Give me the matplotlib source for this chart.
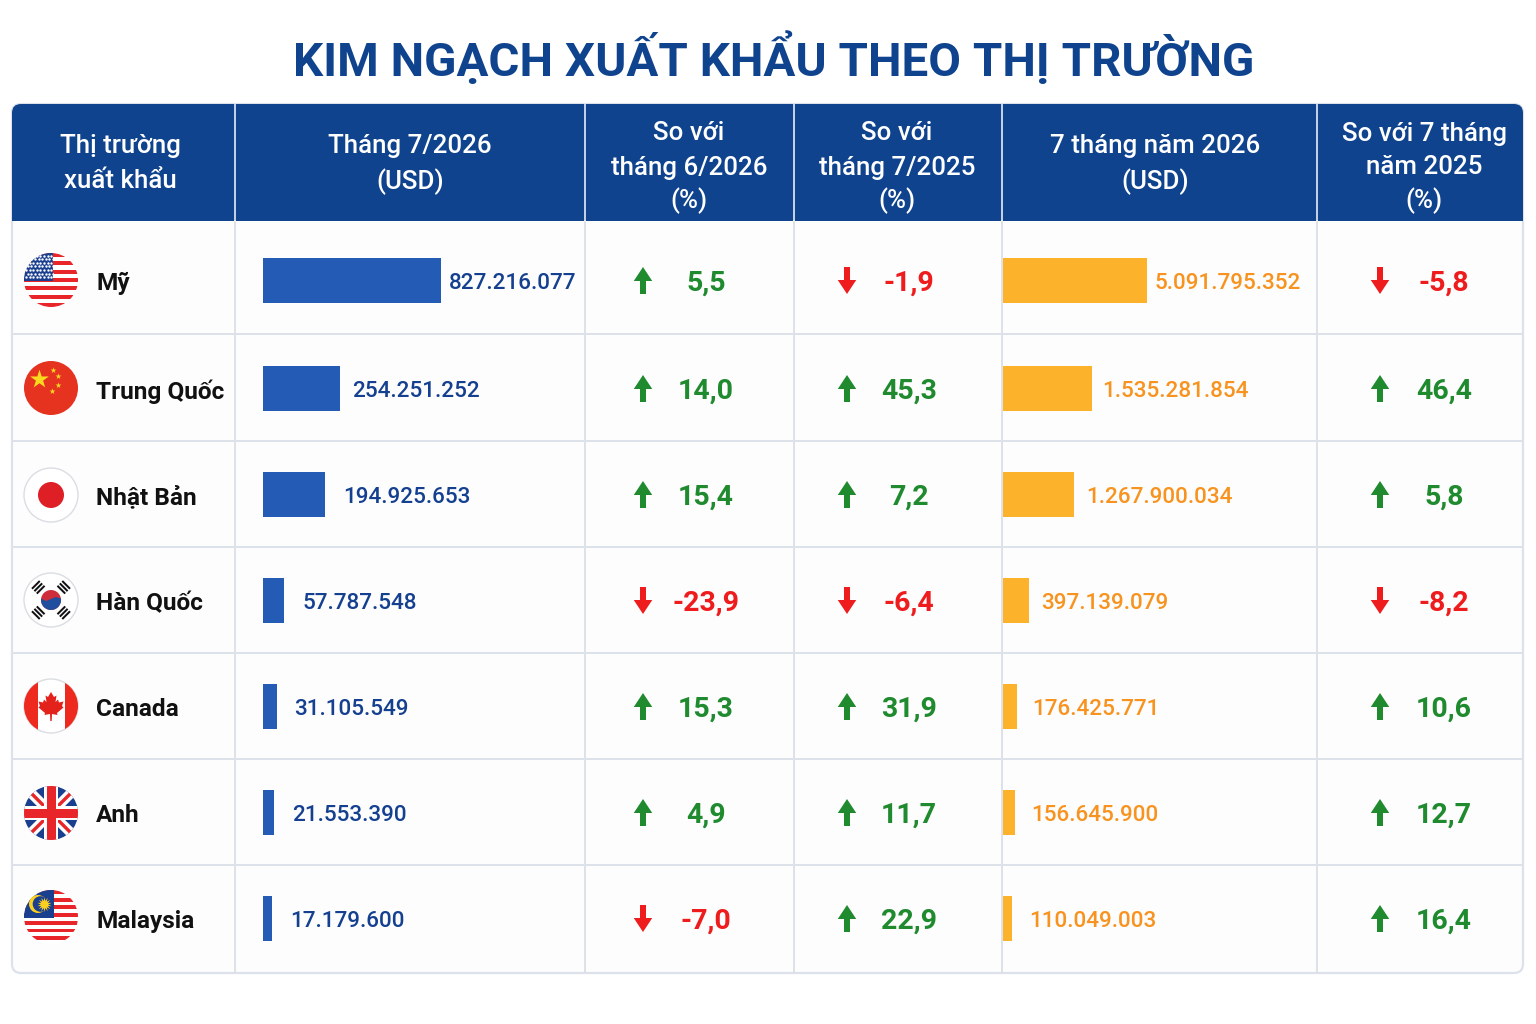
import numpy as np
import matplotlib
matplotlib.use("Agg")
import matplotlib.pyplot as plt
from matplotlib.patches import Circle, Rectangle, FancyBboxPatch, Polygon

plt.rcParams['font.family'] = ['Roboto', 'Noto Sans', 'DejaVu Sans']

TITLE = "KIM NGẠCH XUẤT KHẨU THEO THỊ TRƯỜNG"
headers = [
    ["Thị trường", "xuất khẩu"],
    ["Tháng 7/2026", "(USD)"],
    ["So với", "tháng 6/2026", "(%)"],
    ["So với", "tháng 7/2025", "(%)"],
    ["7 tháng năm 2026", "(USD)"],
    ["So với 7 tháng", "năm 2025", "(%)"],
]
markets = ["Mỹ", "Trung Quốc", "Nhật Bản", "Hàn Quốc", "Canada", "Anh", "Malaysia"]
month_usd = [827216077, 254251252, 194925653, 57787548, 31105549, 21553390, 17179600]
ytd_usd = [5091795352, 1535281854, 1267900034, 397139079, 176425771, 156645900, 110049003]
vs_prev_month = [5.5, 14.0, 15.4, -23.9, 15.3, 4.9, -7.0]
vs_prev_year = [-1.9, 45.3, 7.2, -6.4, 31.9, 11.7, 22.9]
ytd_vs_prev_year = [-5.8, 46.4, 5.8, -8.2, 10.6, 12.7, 16.4]

# layout, all in reference pixels
W, H = 1536, 1024
col_x = [12, 235, 585, 794, 1002, 1317, 1523]
head_x = [120, 410, 689, 897, 1155, 1424]
row_y = [221, 334, 441, 547, 653, 759, 865, 973]
text_y = [283.5, 391.5, 497.5, 603.5, 709.5, 815.5, 921.5]
arrow_y = [280.5, 388.5, 494.5, 600.5, 706.5, 812.5, 918.5]
bar_y = [280, 388.5, 494.5, 600.5, 706, 812, 918.5]
flag_y = [280, 388, 495, 600, 706, 813, 917]
month_label_x = [449, 352, 343, 303, 294, 292, 290]
ytd_label_x = [1154, 1102, 1086, 1041, 1032, 1031, 1029]

NAVY = "#0F438E"
GRID = "#DDE2EA"
BLUE_BAR = "#245BB5"
BLUE_TEXT = "#14408F"
ORANGE_BAR = "#FDB22B"
ORANGE_TEXT = "#F7931E"
GREEN = "#1F8A2E"
RED = "#EE1C1C"
FLAG_RED = "#E8262A"
FLAG_BLUE = "#1B3F8F"

fig = plt.figure(figsize=(W / 100, H / 100), dpi=100, facecolor="white")
ax = fig.add_axes([0, 0, 1, 1])
ax.set_xlim(0, W)
ax.set_ylim(H, 0)
ax.axis("off")


def vn(v):
    return f"{v:,}".replace(",", ".")


def pct(v):
    return f"{v:.1f}".replace(".", ",")


# table frame
ax.add_patch(FancyBboxPatch((col_x[0], 104), col_x[-1] - col_x[0], row_y[-1] - 104,
                            boxstyle="round,pad=0,rounding_size=9",
                            fc="#FDFDFE", ec=GRID, lw=1.6, zorder=1))
head = FancyBboxPatch((col_x[0], 104), col_x[-1] - col_x[0], 140,
                      boxstyle="round,pad=0,rounding_size=9", fc=NAVY, ec="none", zorder=2)
ax.add_patch(head)
head.set_clip_path(Rectangle((0, 100), W, 121, transform=ax.transData))
for y in row_y[1:-1]:
    ax.plot([col_x[0], col_x[-1]], [y, y], color=GRID, lw=1.4, zorder=2)
for x in col_x[1:-1]:
    ax.plot([x, x], [221, row_y[-1]], color=GRID, lw=1.4, zorder=2)
    ax.plot([x, x], [104, 221], color="#E8EDF5", lw=1.2, zorder=3)

ax.text(774, 58, TITLE, ha="center", va="center", color=NAVY, fontsize=34.2, fontweight="bold")

# header text
line_ys = {2: [146.5, 181.5], 3: [133.5, 167.5, 200.5]}
for i, lines in enumerate(headers):
    for line, y in zip(lines, line_ys[len(lines)]):
        ax.text(head_x[i], y, line, ha="center", va="center", color="white",
                fontsize=18.6, fontweight="medium", zorder=4)

# bars
def bar_column(x0, length, values, knots_len, color):
    knots_v = [0] + sorted(values)
    knots_l = [0] + knots_len

    def forward(v):
        return np.interp(v, knots_v, knots_l)

    def inverse(l):
        return np.interp(l, knots_l, knots_v)

    top, bottom = row_y[0], row_y[-1]
    bx = fig.add_axes([x0 / W, 1 - bottom / H, length / W, (bottom - top) / H])
    bx.set_xscale("function", functions=(forward, inverse))
    bx.barh(bar_y, values, height=45, color=color)
    bx.set_xlim(0, max(values))
    bx.set_ylim(bottom, top)
    bx.axis("off")


bar_column(263, 178, month_usd, [9, 11, 14, 21, 62, 77, 178], BLUE_BAR)
bar_column(1003, 144, ytd_usd, [9, 12, 14, 26, 71, 89, 144], ORANGE_BAR)

# change columns
def change_column(arrow_x, text_x, values):
    for v, y, ay in zip(values, text_y, arrow_y):
        color = GREEN if v >= 0 else RED
        sign = -1 if v >= 0 else 1
        ax.arrow(arrow_x, ay + 13.5 * -sign, 0, 27 * sign, width=6, head_width=18.5, head_length=14,
                 length_includes_head=True, fc=color, ec="none", zorder=4)
        ax.text(text_x, y, pct(v), ha="center", va="center", color=color,
                fontsize=20.5, fontweight="bold", zorder=4)


change_column(643, 706, vs_prev_month)
change_column(847, 909, vs_prev_year)
change_column(1380, 1444, ytd_vs_prev_year)

for i, name in enumerate(markets):
    ax.text(96, text_y[i], name, ha="left", va="center", color="#111111",
            fontsize=17.6, fontweight="bold", zorder=4)
    ax.text(month_label_x[i], text_y[i], vn(month_usd[i]), ha="left", va="center",
            color=BLUE_TEXT, fontsize=16.2, fontweight="medium", zorder=4)
    ax.text(ytd_label_x[i], text_y[i], vn(ytd_usd[i]), ha="left", va="center",
            color=ORANGE_TEXT, fontsize=16.2, fontweight="medium", zorder=4)


# flags
FX, FR = 51, 27


def clipped(circle, artist):
    ax.add_patch(artist)
    artist.set_clip_path(circle)
    return artist


def rect(clip, x, y, w, h, color, angle=0, z=5):
    r = Rectangle((x, y), w, h, angle=angle, rotation_point="center", fc=color, ec="none", zorder=z)
    return clipped(clip, r)


def base(cy, color="white", edge=None):
    c = Circle((FX, cy), FR, fc=color, ec=edge if edge else "none", lw=1, zorder=5)
    ax.add_patch(c)
    return c


def striped(cy, n, canton_w, canton_h):
    clip = base(cy)
    step = 2 * FR / n
    for k in range(0, n, 2):
        rect(clip, FX - FR, cy - FR + k * step, 2 * FR, step, FLAG_RED)
    rect(clip, FX - FR, cy - FR, canton_w, canton_h, FLAG_BLUE, z=6)


def flag_us(cy):
    striped(cy, 13, 29, 28)
    xs, ys = [], []
    for r in range(7):
        for c in range(8):
            xs.append(FX - 25 + c * 3.6 + (r % 2) * 1.8)
            ys.append(cy - 24.5 + r * 3.6)
    pts = ax.scatter(xs, ys, s=3, color="white", lw=0, zorder=7)
    pts.set_clip_path(Rectangle((FX - FR, cy - FR), 29, 28, transform=ax.transData))


def flag_cn(cy):
    base(cy, "#E53320")
    ax.scatter([FX - 12.5], [cy - 9.5], marker="*", s=200, color="#FBD91F", lw=0, zorder=6)
    for dx, dy in [(1.5, -18), (7, -12.5), (7, -3), (1, 3)]:
        ax.scatter([FX + dx], [cy + dy], marker="*", s=20, color="#FBD91F", lw=0, zorder=6)


def flag_jp(cy):
    base(cy, "white", "#DADDE2")
    ax.add_patch(Circle((FX, cy), 13, fc="#DE1F26", ec="none", zorder=6))


def flag_kr(cy):
    base(cy, "white", "#DADDE2")
    ax.add_patch(Circle((FX, cy), 10, fc="#CD2E3A", ec="none", zorder=6))
    blue = Circle((FX, cy), 10, fc="#1F4E9E", ec="none", zorder=7)
    ax.add_patch(blue)
    blue.set_clip_path(Polygon([(FX - 11, cy - 2), (FX - 5, cy + 1), (FX, cy - 1), (FX + 5, cy - 3),
                                (FX + 11, cy - 1), (FX + 11, cy + 11), (FX - 11, cy + 11)],
                               transform=ax.transData))
    for ang in [45, 135, 225, 315]:
        t = np.radians(ang)
        mx, my = FX + 18 * np.cos(t), cy + 18 * np.sin(t)
        for off in (-3.4, 0, 3.4):
            ox, oy = mx + off * np.cos(t), my + off * np.sin(t)
            ax.add_patch(Rectangle((ox - 5.5, oy - 1), 11, 2, angle=ang + 90, rotation_point="center",
                                   fc="#111111", ec="none", zorder=6))


def flag_ca(cy):
    clip = base(cy, "white", "#DADDE2")
    rect(clip, FX - FR, cy - FR, 13.5, 2 * FR, "#EE2A1E")
    rect(clip, FX + FR - 13.5, cy - FR, 13.5, 2 * FR, "#EE2A1E")
    half = [(0, -14), (3, -9), (5.5, -10.5), (4.5, -4), (7, -6.5), (8, -3.5), (12.5, -4.5),
            (11, 0), (12.5, 1.5), (6, 7), (6.5, 9), (1, 8), (0.7, 15)]
    pts = half + [(-x, y) for x, y in half[::-1][:-1]]
    ax.add_patch(Polygon([(FX + x, cy + y) for x, y in pts], fc="#E3231B", ec="none", zorder=6))


def flag_uk(cy):
    clip = base(cy, FLAG_BLUE)
    L = 2 * FR + 10
    rect(clip, FX - L / 2, cy - 5, L, 10, "white", 45)
    rect(clip, FX - L / 2, cy - 5, L, 10, "white", -45)
    rect(clip, FX - L / 2, cy - 1.7, L, 3.4, FLAG_RED, 45, 6)
    rect(clip, FX - L / 2, cy - 1.7, L, 3.4, FLAG_RED, -45, 6)
    rect(clip, FX - 7, cy - FR, 14, 2 * FR, "white", z=7)
    rect(clip, FX - FR, cy - 7, 2 * FR, 14, "white", z=7)
    rect(clip, FX - 4.5, cy - FR, 9, 2 * FR, FLAG_RED, z=8)
    rect(clip, FX - FR, cy - 4.5, 2 * FR, 9, FLAG_RED, z=8)


def flag_my(cy):
    striped(cy, 14, 30, 28)
    ax.add_patch(Circle((FX - 13, cy - 13), 9, fc="#FBD020", ec="none", zorder=7))
    ax.add_patch(Circle((FX - 10.5, cy - 13), 7.8, fc=FLAG_BLUE, ec="none", zorder=8))
    ax.scatter([FX - 7.5], [cy - 13], marker=(14, 1, 0), s=110, color="#FBD020", lw=0, zorder=9)


for draw, cy in zip([flag_us, flag_cn, flag_jp, flag_kr, flag_ca, flag_uk, flag_my], flag_y):
    draw(cy)

fig.savefig("out.png", dpi=100, facecolor="white")
